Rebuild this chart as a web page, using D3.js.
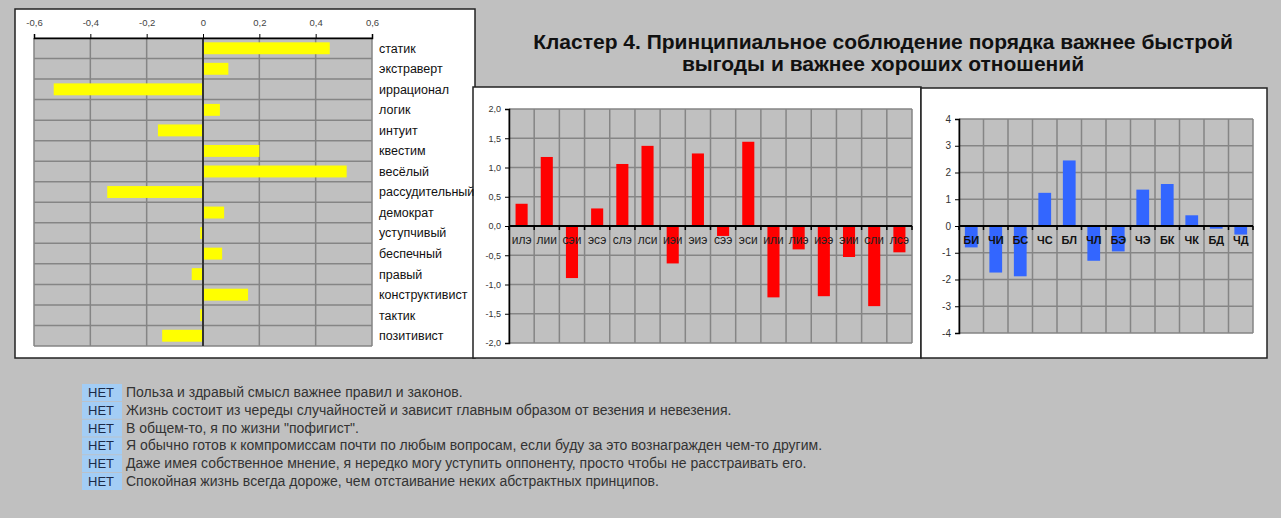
<!DOCTYPE html>
<html>
<head>
<meta charset="utf-8">
<script src="https://cdnjs.cloudflare.com/ajax/libs/d3/7.8.5/d3.min.js"></script>
<style>
	body { margin:0; background:#c0c0c0; }
	text { font-family: "Liberation Sans", Arial, sans-serif; }
</style>
</head>
<body>
<div id="chart-area"></div>
<script>
/*
*    cluster 4 charts
*/

//data
var traits = ["статик", "экстраверт", "иррационал", "логик", "интуит", "квестим", "весёлый",
	"рассудительный", "демократ", "уступчивый", "беспечный", "правый", "конструктивист", "тактик", "позитивист"];
var traitValues = [0.45, 0.09, -0.53, 0.06, -0.16, 0.2, 0.51, -0.34, 0.075, -0.01, 0.068, -0.04, 0.16, -0.01, -0.145];
var traitTicks = [-0.6, -0.4, -0.2, 0, 0.2, 0.4, 0.6];

var types = ["илэ", "лии", "сэи", "эсэ", "слэ", "лси", "иэи", "эиэ", "сээ", "эси", "или", "лиэ", "иээ", "эии", "сли", "лсэ"];
var typeValues = [0.38, 1.18, -0.89, 0.3, 1.06, 1.37, -0.64, 1.24, -0.17, 1.44, -1.22, -0.4, -1.2, -0.53, -1.37, -0.45];
var typeTicks = [-2, -1.5, -1, -0.5, 0, 0.5, 1, 1.5, 2];

var groups = ["БИ", "ЧИ", "БС", "ЧС", "БЛ", "ЧЛ", "БЭ", "ЧЭ", "БК", "ЧК", "БД", "ЧД"];
var groupValues = [-0.8, -1.74, -1.88, 1.24, 2.45, -1.3, -0.95, 1.36, 1.57, 0.4, -0.1, -0.32];
var groupTicks = [-4, -3, -2, -1, 0, 1, 2, 3, 4];

var titleLines = ["Кластер 4. Принципиальное соблюдение порядка важнее быстрой",
	"выгоды и важнее хороших отношений"];
var answers = ["НЕТ", "НЕТ", "НЕТ", "НЕТ", "НЕТ", "НЕТ"];
var statements = [
	"Польза и здравый смысл важнее правил и законов.",
	"Жизнь состоит из череды случайностей и зависит главным образом от везения и невезения.",
	"В общем-то, я по жизни \"пофигист\".",
	"Я обычно готов к компромиссам почти по любым вопросам, если буду за это вознагражден чем-то другим.",
	"Даже имея собственное мнение, я нередко могу уступить оппоненту, просто чтобы не расстраивать его.",
	"Спокойная жизнь всегда дороже, чем отстаивание неких абстрактных принципов."
];

var commaFmt = function(f){ return function(d){ return d3.format(f)(d).replace(".", ",").replace("−", "-"); } };

var svg = d3.select("#chart-area")
	.append("svg")
		.attr("width", 1281)
		.attr("height", 518);

svg.append("rect")
	.attr("width", 1281).attr("height", 518)
	.attr("fill", "#c0c0c0");

//panels
[[15, 9, 460, 349], [473, 87, 448, 271], [921, 88, 346, 270]].forEach(function(p){
	svg.append("rect")
		.attr("x", p[0]).attr("y", p[1])
		.attr("width", p[2]).attr("height", p[3])
		.attr("fill", "#fff")
		.attr("stroke", "#222")
		.attr("stroke-width", 1.5);
});

//---------- left chart: traits ----------
var xT = d3.scaleLinear().domain([-0.6, 0.6]).range([34, 372]);
var yT = d3.scaleBand().domain(traits).range([38, 346]).paddingInner(0.42).paddingOuter(0.21);
var rowStep = yT.step();

var left = svg.append("g");

left.append("rect")
	.attr("x", xT(-0.6)).attr("y", 38)
	.attr("width", xT(0.6) - xT(-0.6)).attr("height", 308)
	.attr("fill", "#c0c0c0");

//grid
left.selectAll(".vgrid")
	.data(traitTicks)
	.enter().append("line")
		.attr("x1", function(d){ return xT(d) }).attr("x2", function(d){ return xT(d) })
		.attr("y1", 38).attr("y2", 346)
		.attr("stroke", "#858585").attr("stroke-width", 1.5);

left.selectAll(".hgrid")
	.data(d3.range(traits.length + 1))
	.enter().append("line")
		.attr("x1", xT(-0.6)).attr("x2", xT(0.6))
		.attr("y1", function(i){ return 38 + i*rowStep }).attr("y2", function(i){ return 38 + i*rowStep })
		.attr("stroke", "#858585").attr("stroke-width", 1.5);

left.selectAll(".bar")
	.data(traitValues)
	.enter().append("rect")
		.attr("x", function(d){ return xT(Math.min(0, d)) })
		.attr("width", function(d){ return Math.abs(xT(d) - xT(0)) })
		.attr("y", function(d, i){ return yT(traits[i]) })
		.attr("height", yT.bandwidth())
		.attr("fill", "#ffff00");

//zero line
left.append("line")
	.attr("x1", xT(0)).attr("x2", xT(0))
	.attr("y1", 38).attr("y2", 346)
	.attr("stroke", "#333").attr("stroke-width", 2);

//top axis
var xTAxis = d3.axisTop(xT)
	.tickValues(traitTicks)
	.tickSize(4)
	.tickPadding(8)
	.tickFormat(function(d){ return d === 0 ? "0" : commaFmt(".1f")(d) });

var xTg = left.append("g")
	.attr("transform", "translate(0, 38)")
	.call(xTAxis);
xTg.select(".domain").attr("stroke", "#000").attr("stroke-width", 1.5);
xTg.selectAll("line").attr("stroke", "#000");
xTg.selectAll("text").attr("font-size", "9.5px").attr("fill", "#444").attr("font-family", "Liberation Sans, Arial");

left.selectAll(".traitLabel")
	.data(traits)
	.enter().append("text")
		.attr("x", 379)
		.attr("y", function(d){ return yT(d) + yT.bandwidth()/2 })
		.attr("dy", "0.35em")
		.attr("font-size", "12.5px")
		.attr("fill", "#111")
		.text(function(d){ return d });

//---------- title ----------
svg.selectAll(".title")
	.data(titleLines)
	.enter().append("text")
		.attr("x", 883)
		.attr("y", function(d, i){ return 49 + i*22 })
		.attr("text-anchor", "middle")
		.attr("font-size", "21px")
		.attr("font-weight", "bold")
		.attr("fill", "#111")
		.text(function(d){ return d });

//---------- column charts ----------
function columnChart(opts){
	var g = svg.append("g");
	var x = d3.scaleBand().domain(opts.cats).range(opts.xr).paddingInner(opts.pad).paddingOuter(opts.pad/2);
	var y = d3.scaleLinear().domain(opts.dom).range(opts.yr);
	var step = x.step();

	g.append("rect")
		.attr("x", opts.xr[0]).attr("y", opts.yr[1])
		.attr("width", opts.xr[1] - opts.xr[0]).attr("height", opts.yr[0] - opts.yr[1])
		.attr("fill", "#c0c0c0");

	//grid
	g.selectAll(".hgrid")
		.data(opts.ticks)
		.enter().append("line")
			.attr("x1", opts.xr[0]).attr("x2", opts.xr[1])
			.attr("y1", function(d){ return y(d) }).attr("y2", function(d){ return y(d) })
			.attr("stroke", "#858585").attr("stroke-width", 1.5);

	g.selectAll(".vgrid")
		.data(d3.range(opts.cats.length + 1))
		.enter().append("line")
			.attr("x1", function(i){ return opts.xr[0] + i*step }).attr("x2", function(i){ return opts.xr[0] + i*step })
			.attr("y1", opts.yr[1]).attr("y2", opts.yr[0])
			.attr("stroke", "#858585").attr("stroke-width", 1.5);

	g.selectAll(".bar")
		.data(opts.vals)
		.enter().append("rect")
			.attr("x", function(d, i){ return x(opts.cats[i]) })
			.attr("width", x.bandwidth())
			.attr("y", function(d){ return y(Math.max(0, d)) })
			.attr("height", function(d){ return Math.abs(y(d) - y(0)) })
			.attr("fill", opts.color);

	//y axis
	var yAxisCall = d3.axisLeft(y)
		.tickValues(opts.ticks)
		.tickSize(4)
		.tickPadding(4)
		.tickFormat(opts.fmt);
	var ya = g.append("g")
		.attr("transform", "translate(" + opts.xr[0] + ", 0)")
		.call(yAxisCall);
	ya.select(".domain").attr("stroke", "#000").attr("stroke-width", 1.5);
	ya.selectAll("line").attr("stroke", "#000");
	ya.selectAll("text").attr("font-size", opts.tickSize).attr("fill", "#333").attr("font-family", "Liberation Sans, Arial");

	//zero axis with category ticks
	g.append("line")
		.attr("x1", opts.xr[0]).attr("x2", opts.xr[1])
		.attr("y1", y(0)).attr("y2", y(0))
		.attr("stroke", "#000").attr("stroke-width", 2);
	g.selectAll(".ctick")
		.data(d3.range(opts.cats.length + 1))
		.enter().append("line")
			.attr("x1", function(i){ return opts.xr[0] + i*step }).attr("x2", function(i){ return opts.xr[0] + i*step })
			.attr("y1", y(0)).attr("y2", y(0) + 4)
			.attr("stroke", "#000").attr("stroke-width", 1.5);

	g.selectAll(".catLabel")
		.data(opts.cats)
		.enter().append("text")
			.attr("x", function(d){ return x(d) + x.bandwidth()/2 })
			.attr("y", y(0) + 18)
			.attr("text-anchor", "middle")
			.attr("font-size", opts.labelSize)
			.attr("font-weight", opts.labelWeight)
			.attr("fill", opts.labelColor)
			.text(function(d){ return d });
}

columnChart({
	cats: types, vals: typeValues, ticks: typeTicks,
	dom: [-2, 2], xr: [509, 912], yr: [343, 109], pad: 0.52,
	color: "#ff0000", fmt: commaFmt(".1f"), tickSize: "9px",
	labelSize: "12px", labelWeight: "normal", labelColor: "#222"
});

columnChart({
	cats: groups, vals: groupValues, ticks: groupTicks,
	dom: [-4, 4], xr: [959, 1253], yr: [333, 119], pad: 0.48,
	color: "#3366ff", fmt: commaFmt("d"), tickSize: "10px",
	labelSize: "11px", labelWeight: "bold", labelColor: "#111"
});

//---------- statements ----------
var rows = svg.selectAll(".answer")
	.data(statements)
	.enter().append("g")
		.attr("transform", function(d, i){ return "translate(0, " + (384 + i*17.8) + ")" });

rows.append("rect")
	.attr("x", 82).attr("width", 40)
	.attr("height", 17)
	.attr("fill", "#a3cdf5");

rows.append("text")
	.attr("x", 88).attr("y", 13)
	.attr("font-size", "13px")
	.attr("fill", "#1b2a48")
	.text(function(d, i){ return answers[i] });

rows.append("text")
	.attr("x", 126).attr("y", 13)
	.attr("font-size", "14px")
	.attr("fill", "#333")
	.text(function(d){ return d });
</script>
</body>
</html>
